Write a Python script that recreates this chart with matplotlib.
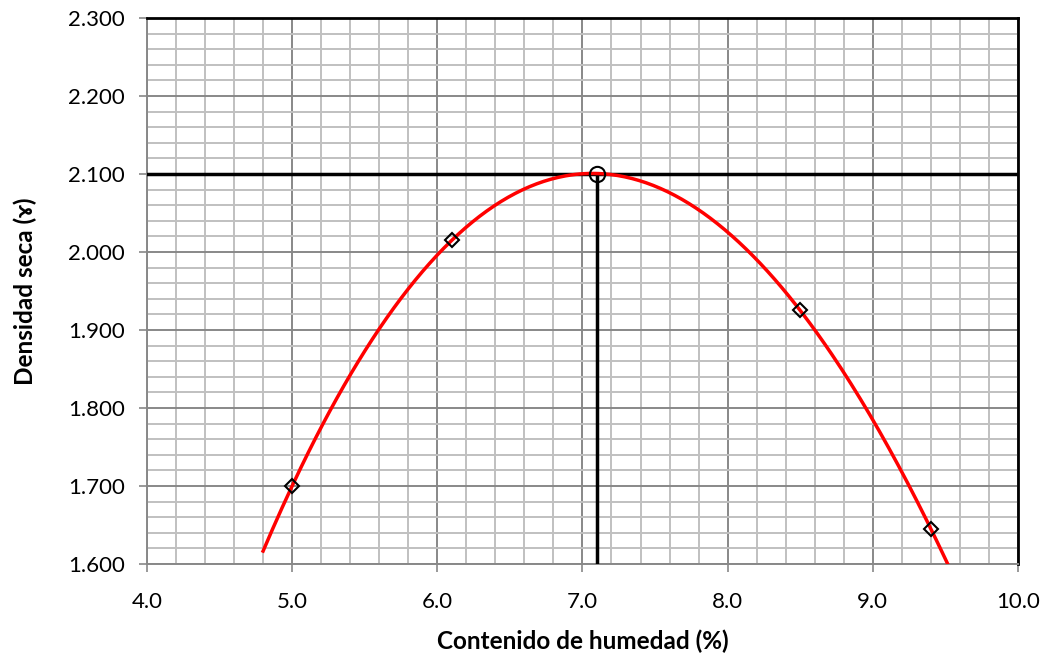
import numpy as np
import matplotlib
matplotlib.use("Agg")
import matplotlib.pyplot as plt
from matplotlib.ticker import MultipleLocator, FormatStrFormatter

plt.rcParams['font.family'] = ['Lato', 'DejaVu Sans']

# ensayo proctor: humedad (%) y densidad seca
humedad = [5.0, 6.1, 8.5, 9.4]
densidad = [1.700, 2.015, 1.925, 1.645]

# optimo
hum_opt = 7.1
dens_max = 2.100

# curva de ajuste (polinomio grado 3)
coef = np.polyfit(humedad, densidad, 3)
xc = np.linspace(4.8, 9.7, 300)
yc = np.polyval(coef, xc)

fig = plt.figure(figsize=(10.46, 6.59), dpi=100)
ax = fig.add_axes([0.1405, 0.1442, 0.8327, 0.8285])

ax.set_xlim(4.0, 10.0)
ax.set_ylim(1.6, 2.3)
ax.xaxis.set_major_locator(MultipleLocator(1.0))
ax.xaxis.set_minor_locator(MultipleLocator(0.2))
ax.yaxis.set_major_locator(MultipleLocator(0.1))
ax.yaxis.set_minor_locator(MultipleLocator(0.02))
ax.xaxis.set_major_formatter(FormatStrFormatter('%.1f'))
ax.yaxis.set_major_formatter(FormatStrFormatter('%.3f'))

ax.grid(which='minor', color='#c0c0c0', lw=1.4, zorder=0)
ax.grid(which='major', color='#888888', lw=1.4, zorder=0)
ax.set_axisbelow(True)

ax.tick_params(which='major', direction='out', length=6, width=1.2, color='#888888',
               labelsize=16)
ax.tick_params(which='minor', length=0)
ax.tick_params(axis='x', pad=14)
ax.tick_params(axis='y', pad=10)

for s in ['left', 'bottom']:
    ax.spines[s].set_color('#888888')
    ax.spines[s].set_linewidth(1.4)
for s in ['top', 'right']:
    ax.spines[s].set_color('black')
    ax.spines[s].set_linewidth(2)

# lineas del optimo
ax.axhline(dens_max, color='black', lw=2.5, zorder=3)
ax.plot([hum_opt, hum_opt], [1.6, dens_max], color='black', lw=2.5, zorder=3)

ax.plot(xc, yc, color='red', lw=2.5, zorder=4)
ax.plot(humedad, densidad, linestyle='none', marker='D', markersize=7,
        markerfacecolor='none', markeredgecolor='black', markeredgewidth=1.5, zorder=5)
ax.plot([hum_opt], [dens_max], linestyle='none', marker='o', markersize=11,
        markerfacecolor='none', markeredgecolor='black', markeredgewidth=1.5, zorder=5)

ax.set_xlabel('Contenido de humedad (%)', fontsize=17.5, fontweight='bold', labelpad=13)
ax.set_ylabel('Densidad seca (ɤ)', fontsize=17.5, fontweight='bold', labelpad=22)

fig.savefig('out.png', dpi=100)
